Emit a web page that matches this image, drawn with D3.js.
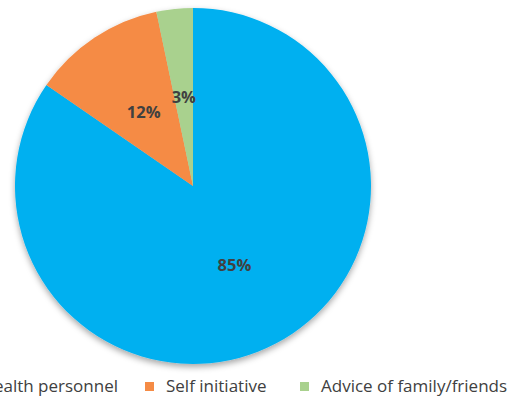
<!DOCTYPE html>
<html>
<head>
<meta charset="utf-8">
<script src="https://cdn.jsdelivr.net/npm/d3@7"></script>
<style>
  body { margin: 0; background: #fff; }
  svg { display: block; }
</style>
</head>
<body>
<svg id="chart" width="519" height="398"></svg>
<script>
var categories = ['Health personnel', 'Self initiative', 'Advice of family/friends'];
var values = [84.6, 12.1, 3.3];
var labels = ['85%', '12%', '3%'];
var colors = ['#00b0f0', '#f58b45', '#a9d18e'];

var svg = d3.select('#chart');
var cx = 193, cy = 186, radius = 178;
var font = '"Open Sans", Lato, sans-serif';

var defs = svg.append('defs');
var shadow = defs.append('filter')
  .attr('id', 'shadow')
  .attr('x', '-20%').attr('y', '-20%')
  .attr('width', '140%').attr('height', '140%');
shadow.append('feDropShadow')
  .attr('dx', 0).attr('dy', 3)
  .attr('stdDeviation', 3)
  .attr('flood-color', '#000')
  .attr('flood-opacity', 0.35);

var data = categories.map(function(c, i) {
  return { name: c, value: values[i], label: labels[i], color: colors[i] };
});

var pie = d3.pie().sort(null).value(function(d) { return d.value; });
var arc = d3.arc().innerRadius(0).outerRadius(radius);

var g = svg.append('g')
  .attr('transform', 'translate(' + cx + ',' + cy + ')');

g.append('g')
  .attr('filter', 'url(#shadow)')
  .selectAll('path')
  .data(pie(data))
  .enter().append('path')
  .attr('d', arc)
  .attr('fill', function(d) { return d.data.color; });

g.selectAll('text.lbl')
  .data(pie(data))
  .enter().append('text')
  .attr('class', 'lbl')
  .attr('transform', function(d) { return 'translate(' + arc.centroid(d) + ')'; })
  .attr('text-anchor', 'middle')
  .attr('dy', '.35em')
  .style('font-family', font)
  .style('font-weight', 'bold')
  .style('font-size', '16.5px')
  .style('fill', '#404040')
  .text(function(d) { return d.data.label; });

// legend: the first entry runs off the left edge, as in the original
var legendY = 386;
var legendX = [null, 145, 300];
var legend = svg.append('g').selectAll('g')
  .data(data)
  .enter().append('g');

legend.append('rect')
  .attr('x', 0).attr('y', -4)
  .attr('width', 9).attr('height', 9)
  .attr('fill', function(d) { return d.color; });

legend.append('text')
  .attr('x', 21)
  .attr('dy', '.35em')
  .style('font-family', font)
  .style('font-size', '17px')
  .style('fill', '#404040')
  .text(function(d) { return d.name; });

legend.attr('transform', function(d, i) {
  var x = legendX[i];
  if (x === null) {
    var w = this.querySelector('text').getComputedTextLength();
    x = 118 - 21 - w;
  }
  return 'translate(' + x + ',' + legendY + ')';
});
</script>
</body>
</html>
